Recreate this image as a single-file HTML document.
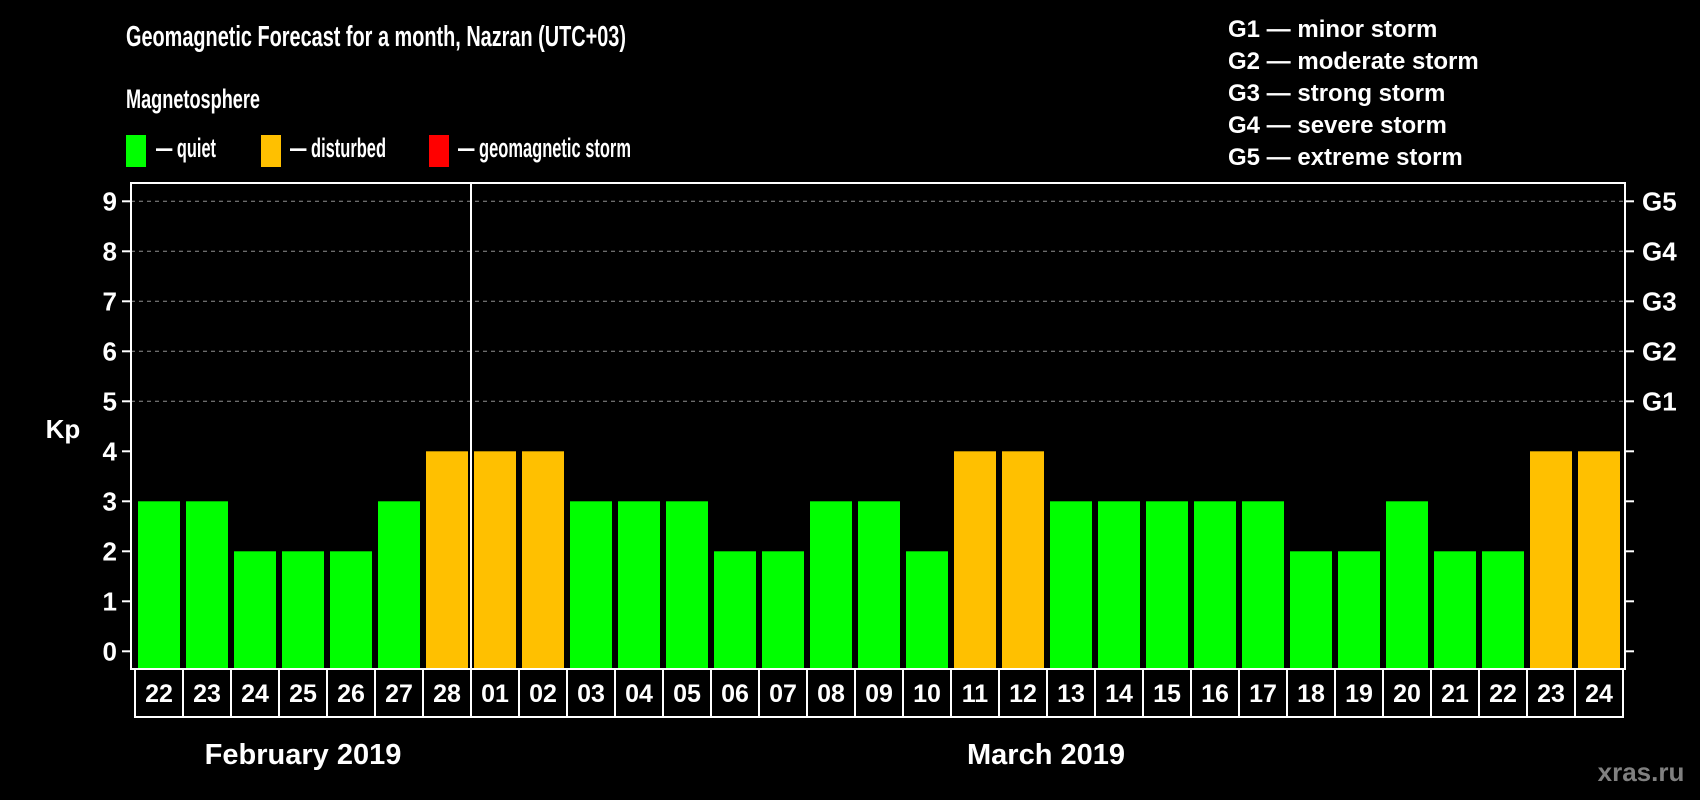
<!DOCTYPE html>
<html><head><meta charset="utf-8"><style>
html,body{margin:0;padding:0;background:#000;width:1700px;height:800px;overflow:hidden}
svg{display:block}
.b{font-family:"Liberation Sans",sans-serif;font-weight:bold;fill:#fff}
.n{font-family:"Liberation Sans Narrow","Liberation Sans",sans-serif;font-weight:bold;fill:#fff}
</style></head><body>
<svg id="chart" width="1700" height="800" viewBox="0 0 1700 800" xmlns="http://www.w3.org/2000/svg">
<rect width="1700" height="800" fill="#000"/>
<text class="n" x="126" y="46" font-size="29" textLength="500" lengthAdjust="spacingAndGlyphs">Geomagnetic Forecast for a month, Nazran (UTC+03)</text>
<text class="n" x="126" y="108" font-size="27" textLength="134" lengthAdjust="spacingAndGlyphs">Magnetosphere</text>
<g><rect x="126" y="135" width="20" height="32" fill="#00ff00"/><text class="n" x="156" y="157" font-size="27" textLength="60" lengthAdjust="spacingAndGlyphs">— quiet</text></g>
<g><rect x="261" y="135" width="20" height="32" fill="#ffc000"/><text class="n" x="290" y="157" font-size="27" textLength="96" lengthAdjust="spacingAndGlyphs">— disturbed</text></g>
<g><rect x="429" y="135" width="20" height="32" fill="#ff0000"/><text class="n" x="458" y="157" font-size="27" textLength="173" lengthAdjust="spacingAndGlyphs">— geomagnetic storm</text></g>
<g>
<text class="b" x="1228" y="37" font-size="24">G1 — minor storm</text>
<text class="b" x="1228" y="69" font-size="24">G2 — moderate storm</text>
<text class="b" x="1228" y="101" font-size="24">G3 — strong storm</text>
<text class="b" x="1228" y="133" font-size="24">G4 — severe storm</text>
<text class="b" x="1228" y="165" font-size="24">G5 — extreme storm</text>
</g>
<text class="b" x="63" y="438" font-size="26" text-anchor="middle">Kp</text>
<g id="plot"></g>
<text class="b" x="303" y="764" font-size="29" text-anchor="middle">February 2019</text>
<text class="b" x="1046" y="764" font-size="29" text-anchor="middle">March 2019</text>
<text x="1641" y="781" font-size="26" font-family="Liberation Sans,sans-serif" font-weight="bold" fill="#808080" text-anchor="middle">xras.ru</text>
</svg>
<script>
const days = ["22","23","24","25","26","27","28","01","02","03","04","05","06","07","08","09","10","11","12","13","14","15","16","17","18","19","20","21","22","23","24"];
const kp = [3,3,2,2,2,3,4,4,4,3,3,3,2,2,3,3,2,4,4,3,3,3,3,3,2,2,3,2,2,4,4];
const yTicks = [0,1,2,3,4,5,6,7,8,9];
const gLabels = ["G1","G2","G3","G4","G5"];
const gLevels = [5,6,7,8,9];
const monthBreakIndex = 7;

const NS = "http://www.w3.org/2000/svg";
const plot = document.getElementById("plot");
const L = 131, R = 1625, T = 183, B = 669;
const x0 = 138, pitch = 48, bw = 42;
function xs(i){ return x0 + i*pitch; }
function ys(v){ return 651.3 - 50*v; }
function mk(tag, attrs){ const e = document.createElementNS(NS, tag); for (const k in attrs) e.setAttribute(k, attrs[k]); plot.appendChild(e); return e; }
function color(v){ return v >= 5 ? "#ff0000" : (v >= 4 ? "#ffc000" : "#00ff00"); }

yTicks.forEach(v => {
  if (v >= 5) {
    const g = mk("line", {x1:L, x2:R, y1:ys(v), y2:ys(v), stroke:"#909090", "stroke-width":1, "stroke-dasharray":"4,4"});
    
    
  }
  const t1 = mk("line", {x1:L-9, x2:L, y1:ys(v), y2:ys(v), stroke:"#fff", "stroke-width":2});
  
  
  const t2 = mk("line", {x1:R, x2:R+9, y1:ys(v), y2:ys(v), stroke:"#fff", "stroke-width":2});
  
  
  const lab = mk("text", {x:L-14, y:ys(v)+9, "font-size":26, "text-anchor":"end", class:"b"});
  lab.textContent = v;
  
  
});
gLabels.forEach((g, i) => {
  const t = mk("text", {x:R+17, y:ys(gLevels[i])+9, "font-size":26, class:"b"});
  t.textContent = g;
  
  
});
kp.forEach((v, i) => {
  const r = mk("rect", {x:xs(i), y:ys(v), width:bw, height:B-ys(v), fill:color(v)});
  
  
});
const f = mk("rect", {x:L, y:T, width:R-L, height:B-T, fill:"none", stroke:"#fff", "stroke-width":2});


const sep = mk("line", {x1:xs(monthBreakIndex)-3, x2:xs(monthBreakIndex)-3, y1:T, y2:B, stroke:"#fff", "stroke-width":2});


days.forEach((d, i) => {
  const c = mk("rect", {x:xs(i)-3, y:B, width:pitch, height:48, fill:"none", stroke:"#fff", "stroke-width":2});
  
  
  const t = mk("text", {x:xs(i)-3+pitch/2, y:B+33, "font-size":25, "text-anchor":"middle", class:"b"});
  t.textContent = d;
  
  
});
</script>
</body></html>
